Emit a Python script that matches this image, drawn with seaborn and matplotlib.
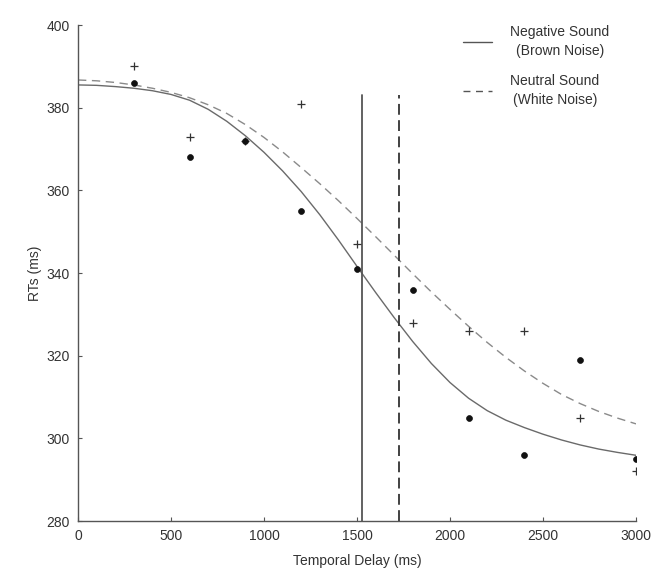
import numpy as np
import pandas as pd
import matplotlib
matplotlib.use("Agg")
import matplotlib.pyplot as plt
from matplotlib.lines import Line2D
import seaborn as sns

# observed RTs per temporal delay
delays = [300, 600, 900, 1200, 1500, 1800, 2100, 2400, 2700, 3000]
rt_negative = [386, 368, 372, 355, 341, 336, 305, 296, 319, 295]
rt_neutral = [390, 373, 372, 381, 347, 328, 326, 326, 305, 292]

# fitted curves
curve_x = [0, 100, 200, 300, 400, 500, 600, 700, 800, 900, 1000,
           1100, 1200, 1300, 1400, 1500, 1600, 1700, 1800, 1900, 2000,
           2100, 2200, 2300, 2400, 2500, 2600, 2700, 2800, 2900, 3000]
fit_negative = [385.5, 385.4, 385.1, 384.7, 384.1, 383.2, 381.8, 379.6, 376.7, 373.2, 369.2,
                364.7, 359.7, 354.1, 348.0, 341.6, 335.3, 329.2, 323.4, 318.1, 313.5,
                309.7, 306.7, 304.4, 302.6, 301.0, 299.6, 298.4, 297.4, 296.6, 295.9]
fit_neutral = [386.7, 386.5, 386.1, 385.5, 384.7, 383.7, 382.4, 380.7, 378.6, 375.9, 372.8,
               369.3, 365.5, 361.6, 357.5, 353.2, 348.8, 344.3, 339.8, 335.4, 331.2,
               327.1, 323.2, 319.6, 316.3, 313.3, 310.6, 308.4, 306.5, 304.9, 303.5]

# thresholds (vertical lines)
pse_negative = 1525
pse_neutral = 1727
pse_top = 383

labels = ["Negative Sound\n(Brown Noise)", "Neutral Sound\n(White Noise)"]

sns.set_style("ticks")
plt.rcParams["font.family"] = ["Liberation Sans", "DejaVu Sans"]
plt.rcParams["xtick.direction"] = "in"
plt.rcParams["ytick.direction"] = "in"

fig = plt.figure(figsize=(6.59, 5.72), dpi=100)
ax = fig.add_axes([78 / 659, 1 - 521 / 572, (636 - 78) / 659, (521 - 25) / 572])

curves = pd.DataFrame({"delay": curve_x, "neg": fit_negative, "neu": fit_neutral})
points = pd.DataFrame({"delay": delays, "neg": rt_negative, "neu": rt_neutral})

sns.lineplot(data=curves, x="delay", y="neg", ax=ax, color="#6a6a6a", linewidth=1.0)
sns.lineplot(data=curves, x="delay", y="neu", ax=ax, color="#8a8a8a", linewidth=1.0,
             linestyle=(0, (6, 4)))

ax.plot([pse_negative, pse_negative], [280, pse_top], color="#555555", linewidth=1.3)
ax.plot([pse_neutral, pse_neutral], [280, pse_top], color="#333333", linewidth=1.3,
        linestyle=(0, (6, 3)))

sns.scatterplot(data=points, x="delay", y="neu", ax=ax, marker="+", s=28,
                color="#333333", linewidth=0.9, zorder=3)
sns.scatterplot(data=points, x="delay", y="neg", ax=ax, marker="o", s=18,
                color="#111111", edgecolor="#111111", linewidth=0.5, zorder=4)

ax.set_xlim(0, 3000)
ax.set_ylim(280, 400)
ax.set_xticks(range(0, 3001, 500))
ax.set_yticks(range(280, 401, 20))
ax.tick_params(length=3, width=0.8, colors="#555555", labelcolor="#333333", labelsize=10, pad=6)
for s in ["left", "bottom"]:
    ax.spines[s].set_color("#555555")
    ax.spines[s].set_linewidth(1.0)
sns.despine(ax=ax)

ax.set_xlabel("Temporal Delay (ms)", fontsize=10, color="#333333", labelpad=8)
ax.set_ylabel("RTs (ms)", fontsize=10, color="#333333", labelpad=3)

handles = [Line2D([], [], color="#555555", linewidth=1.0),
           Line2D([], [], color="#555555", linewidth=1.0, linestyle=(0, (5, 4)))]
leg = fig.legend(handles, labels, loc="upper left", bbox_to_anchor=(463 / 659, 1 - 25 / 572),
                 bbox_transform=fig.transFigure, frameon=False, fontsize=10,
                 handlelength=2.1, handletextpad=1.3, labelspacing=1.15,
                 borderpad=0, borderaxespad=0)
for t in leg.get_texts():
    t.set_multialignment("center")
    t.set_linespacing(1.45)
    t.set_color("#333333")

fig.savefig("out.png", dpi=100)
